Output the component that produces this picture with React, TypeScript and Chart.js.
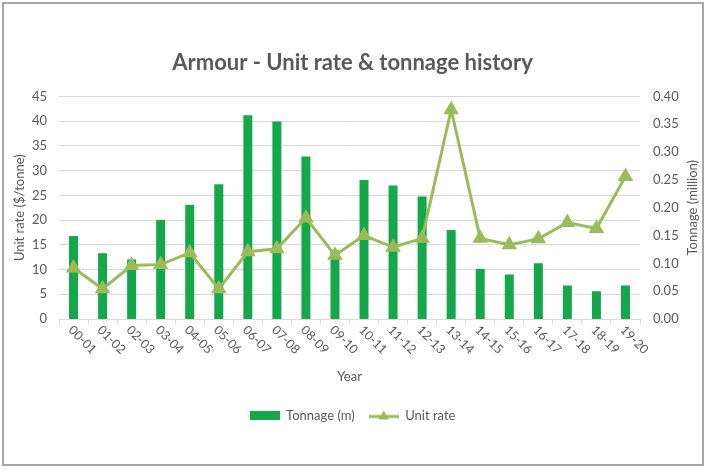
import { useEffect, useRef } from 'react'
import { Chart, registerables } from 'chart.js'

Chart.register(...registerables)

const years = ['00-01', '01-02', '02-03', '03-04', '04-05', '05-06', '06-07', '07-08', '08-09', '09-10',
  '10-11', '11-12', '12-13', '13-14', '14-15', '15-16', '16-17', '17-18', '18-19', '19-20']
const tonnage = [0.149, 0.118, 0.107, 0.178, 0.205, 0.242, 0.366, 0.355, 0.292, 0.123,
  0.25, 0.24, 0.22, 0.16, 0.09, 0.08, 0.10, 0.06, 0.05, 0.06]
const unitRate = [10.3, 6.1, 10.8, 11.0, 13.4, 6.1, 13.6, 14.2, 20.4, 12.9,
  16.9, 14.5, 16.3, 42.3, 16.3, 15.0, 16.2, 19.5, 18.3, 28.8]

const BAR = '#14a84a'
const LINE = '#9bbb59'
const TEXT = '#595959'
const GRID = '#d9d9d9'
const FONT = 'Lato'

// legend swatches
function barSwatch() {
  const c = document.createElement('canvas')
  c.width = 30
  c.height = 9
  const g = c.getContext('2d')!
  g.fillStyle = BAR
  g.fillRect(0, 0, 30, 9)
  return c
}

function lineSwatch() {
  const c = document.createElement('canvas')
  c.width = 30
  c.height = 12
  const g = c.getContext('2d')!
  g.strokeStyle = LINE
  g.lineWidth = 3
  g.beginPath()
  g.moveTo(0, 7)
  g.lineTo(30, 7)
  g.stroke()
  g.fillStyle = LINE
  g.beginPath()
  g.moveTo(15, 1)
  g.lineTo(20, 10)
  g.lineTo(10, 10)
  g.closePath()
  g.fill()
  return c
}

// rotated x labels (clockwise) and right axis title
const customText = {
  id: 'customText',
  afterDraw(chart: any) {
    const { ctx, scales, chartArea } = chart
    const x = scales.x
    ctx.save()
    ctx.fillStyle = TEXT
    ctx.font = `12.5px ${FONT}`
    ctx.textAlign = 'left'
    ctx.textBaseline = 'middle'
    years.forEach((label, i) => {
      const px = x.getPixelForValue(i)
      ctx.save()
      ctx.translate(px - 3, x.top + 9)
      ctx.rotate(Math.PI / 4)
      ctx.fillText(label, 0, 0)
      ctx.restore()
    })
    ctx.translate(693, (chartArea.top + chartArea.bottom) / 2)
    ctx.rotate(-Math.PI / 2)
    ctx.textAlign = 'center'
    ctx.font = `13px ${FONT}`
    ctx.fillText('Tonnage (million)', 0, 0)
    ctx.restore()
  }
}

export default function App() {
  const chartRef = useRef<HTMLCanvasElement | null>(null)
  const chartInstance = useRef<Chart | null>(null)

  useEffect(() => {
    document.body.style.margin = '0'
    if (!chartRef.current) return
    if (chartInstance.current) chartInstance.current.destroy()

    const swatches = [barSwatch(), lineSwatch()]

    chartInstance.current = new Chart(chartRef.current, {
      type: 'bar',
      data: {
        labels: years,
        datasets: [
          {
            type: 'bar',
            label: 'Tonnage (m)',
            data: tonnage,
            backgroundColor: BAR,
            yAxisID: 'y1',
            barPercentage: 0.31,
            categoryPercentage: 1,
            order: 1
          },
          {
            type: 'line',
            label: 'Unit rate',
            data: unitRate,
            borderColor: LINE,
            backgroundColor: LINE,
            borderWidth: 3,
            pointStyle: 'triangle',
            pointRadius: 6,
            pointBackgroundColor: LINE,
            pointBorderColor: LINE,
            yAxisID: 'y',
            order: 0
          }
        ] as any
      },
      options: {
        responsive: false,
        animation: false,
        layout: { padding: { left: 5, right: 8, top: 0, bottom: 38 } },
        scales: {
          x: {
            grid: { drawOnChartArea: false, drawTicks: true, tickLength: 5, color: GRID, offset: true },
            border: { color: GRID },
            ticks: { display: false },
            title: {
              display: true,
              text: 'Year',
              color: TEXT,
              font: { family: FONT, size: 13 },
              padding: { top: 0, bottom: 10 }
            },
            afterFit: (s: any) => { s.height = 76 }
          },
          y: {
            position: 'left',
            min: 0,
            max: 45,
            ticks: { stepSize: 5, color: TEXT, font: { family: FONT, size: 13 }, padding: 12 },
            grid: { color: GRID, drawTicks: false },
            border: { display: false },
            title: {
              display: true,
              text: 'Unit rate ($/tonne)',
              color: TEXT,
              font: { family: FONT, size: 13 },
              padding: { top: 7, bottom: 0 }
            },
            afterFit: (s: any) => { s.width = 54 }
          },
          y1: {
            position: 'right',
            min: 0,
            max: 0.4,
            ticks: {
              stepSize: 0.05,
              color: TEXT,
              font: { family: FONT, size: 13 },
              padding: 5,
              callback: (v: any) => Number(v).toFixed(2)
            },
            grid: { display: false },
            border: { display: false },
            afterFit: (s: any) => { s.width = 60 }
          }
        },
        plugins: {
          title: {
            display: true,
            text: 'Armour - Unit rate & tonnage history',
            color: TEXT,
            font: { family: FONT, size: 22, weight: 'bold' },
            padding: { top: 50, bottom: 20 }
          },
          legend: {
            position: 'bottom',
            labels: {
              color: TEXT,
              font: { family: FONT, size: 13 },
              usePointStyle: true,
              pointStyleWidth: 30,
              padding: 14,
              sort: (a: any, b: any) => a.datasetIndex - b.datasetIndex,
              generateLabels: (chart: any) => {
                const items = Chart.defaults.plugins.legend.labels.generateLabels(chart)
                return items.map((it: any) => ({ ...it, pointStyle: swatches[it.datasetIndex] }))
              }
            }
          },
          tooltip: { enabled: false }
        }
      },
      plugins: [customText]
    })

    return () => {
      if (chartInstance.current) {
        chartInstance.current.destroy()
        chartInstance.current = null
      }
    }
  }, [])

  return (
    <div style={{ position: 'relative', width: 708, height: 470, background: '#fff' }}>
      <canvas ref={chartRef} width={708} height={470} style={{ display: 'block' }}></canvas>
      <div
        style={{
          position: 'absolute',
          left: 2,
          top: 2,
          width: 702,
          height: 464,
          boxSizing: 'border-box',
          border: '2px solid #a6a6a6',
          pointerEvents: 'none'
        }}
      ></div>
    </div>
  )
}
